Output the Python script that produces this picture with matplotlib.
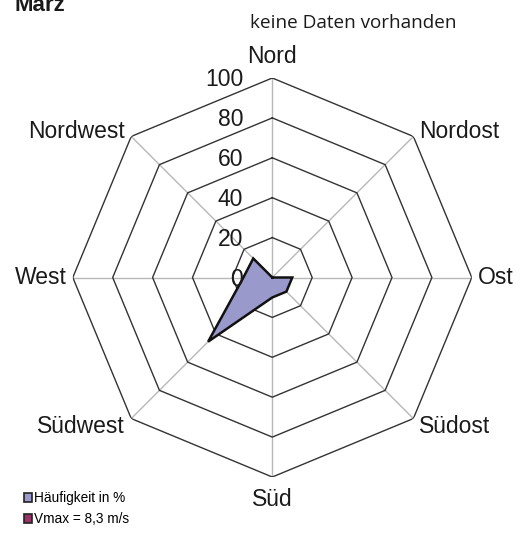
import numpy as np
import matplotlib
matplotlib.use("Agg")
import matplotlib.pyplot as plt
from matplotlib.patches import Patch

# ---- data ----
directions = ["Nord", "Nordost", "Ost", "Südost", "Süd", "Südwest", "West", "Nordwest"]
frequency = [0, 0, 10, 10, 10, 45.5, 14.5, 13.5]   # Häufigkeit in %
ring_values = [0, 20, 40, 60, 80, 100]
title = "März"
note = "keine Daten vorhanden"
legend_labels = ["Häufigkeit in %", "Vmax = 8,3 m/s"]

W, H = 520, 533
fig = plt.figure(figsize=(W / 100, H / 100), dpi=100)
cx, cy, R = 272.3, 277.5, 199.5
ax = fig.add_axes([(cx - R) / W, (H - cy - R) / H, 2 * R / W, 2 * R / H],
                  projection="polar")
ax.set_theta_zero_location("N")
ax.set_theta_direction(-1)
ax.set_ylim(0, 100)
ax.grid(False)
ax.spines["polar"].set_visible(False)
ax.set_xticks([])
ax.set_yticks([])
ax.patch.set_alpha(0)

n = len(directions)
theta = np.arange(n) * 2 * np.pi / n
theta_c = np.append(theta, theta[0])

# spokes
for t in theta:
    ax.plot([t, t], [0, 100], color="#b8b8b8", lw=1.0, zorder=1)
# octagon rings
for r in ring_values[1:]:
    ax.plot(theta_c, [r] * (n + 1), color="#333333", lw=1.0, zorder=2)

# data polygon
vals = np.append(frequency, frequency[0])
ax.fill(theta_c, vals, facecolor="#9999cc", edgecolor="none", zorder=3)
ax.plot(theta_c, vals, color="#111111", lw=1.8, zorder=4, solid_joinstyle="miter")

# ring labels
lab_font = dict(family="Liberation Sans", fontsize=16.5, color="#1a1a1a")
for r in ring_values:
    ax.annotate(str(r), xy=(0, r), xytext=(-29 * 0.72, -8 * 0.72),
                textcoords="offset points", ha="right", va="baseline",
                zorder=5, **lab_font)

# direction labels: (dx px, dy px (down positive), ha)
offs = {
    0: (0, -15, "center"),
    1: (6, 1.5, "left"),
    2: (6, 6, "left"),
    3: (6, 14.5, "left"),
    4: (0, 29, "center"),
    5: (-6, 14.5, "right"),
    6: (-6, 6, "right"),
    7: (-6, 1.5, "right"),
}
for i, name in enumerate(directions):
    dx, dy, ha = offs[i]
    ax.annotate(name, xy=(theta[i], 100), xytext=(dx * 0.72, -dy * 0.72),
                textcoords="offset points", ha=ha, va="baseline",
                annotation_clip=False, **lab_font)

# title & note
fig.text(15 / W, 1 - 11 / H, title, ha="left", va="baseline",
         family="Liberation Sans", fontweight="bold", fontsize=16, color="#1a1a1a")
fig.text(250 / W, 1 - 28 / H, note, ha="left", va="baseline",
         family="Open Sans", fontsize=13.6, color="#1a1a1a")

# legend
handles = [Patch(facecolor="#9999cc", edgecolor="#222222", lw=1.2),
           Patch(facecolor="#993366", edgecolor="#222222", lw=1.2)]
fig.legend(handles, legend_labels, loc="lower left",
           bbox_to_anchor=(14 / W, -3 / H), frameon=False,
           prop=dict(family="Liberation Sans", size=9.8),
           handlelength=0.62, handleheight=0.62, handletextpad=0.15,
           labelspacing=0.55, borderpad=0.2)

fig.savefig("out.png", dpi=100)
